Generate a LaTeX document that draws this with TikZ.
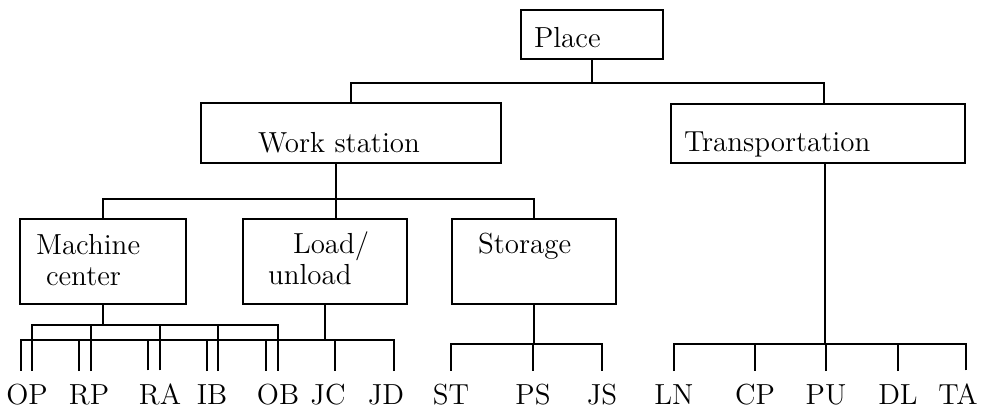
\documentclass[tikz,border=0pt]{standalone}
\usepackage{tikz}
\usetikzlibrary{positioning}
\newcommand{\diagfont}{\fontsize{14.5}{15.5}\selectfont}

\begin{document}
\begin{tikzpicture}[x=0.5pt,y=-0.5pt,line width=1pt,
    box/.style={draw,rectangle,inner sep=0,anchor=north west},
    txt/.style={inner sep=0,font=\diagfont},
    leaf/.style={inner xsep=0,inner ysep=6pt,anchor=base,font=\diagfont}]
        \useasboundingbox (0,0) rectangle (984,412);
        % boxes
        \node[box,minimum width=71pt,minimum height=24.5pt] (place) at (520,9) {};
        \node[box,minimum width=150pt,minimum height=30pt] (ws) at (200,102) {};
        \node[box,minimum width=147pt,minimum height=29.5pt] (tr) at (670,103) {};
        \node[box,minimum width=83pt,minimum height=42.5pt] (mc) at (19,218) {};
        \node[box,minimum width=82pt,minimum height=42.5pt] (lu) at (242,218) {};
        \node[box,minimum width=82pt,minimum height=42.5pt] (stor) at (451,218) {};
        \node[txt,anchor=base west] (place-t) at (533,47) {Place};
        \node[txt,anchor=base west] (ws-t) at (257,152) {Work station};
        \node[txt,anchor=base west] (tr-t) at (683,151) {Transportation};
        \node[txt,anchor=north west,align=left] (mc-t) at (35,233) {Machine\\\hspace*{5pt}center};
        \node[txt,anchor=north west,align=left] (lu-t) at (267,231) {\hspace*{12.5pt}Load/\\unload};
        \node[txt,anchor=base west] (stor-t) at (477,253) {Storage};
        % leaves
        \foreach \t/\x in {OP/27, RP/89, RA/160, IB/212, OB/278, JC/328, JD/386,
                           ST/451, PS/533, JS/602, LN/674, CP/755, PU/826, DL/898, TA/958} {
            \node[leaf] (\t) at (\x,404) {\t};
        }
        % upper levels
        \draw (place.south) -- ++(0,23) coordinate (pbus);
        \draw (ws.north) |- (pbus) -| ([xshift=3pt]tr.north);
        \draw ([xshift=-7.5pt]ws.south) -- ++(0,35) coordinate (wbus) -- ++(0,21);
        \draw (mc.north) |- (wbus) -| (stor.north);
        % buses
        \draw (mc.south) -- ++(0,20) coordinate (mcbus);
        \draw (lu.south) -- ++(0,35) coordinate (lubus);
        \draw (stor.south) -- ++(0,39) coordinate (stbus);
        \draw ([xshift=3.5pt]tr.south) -- ++(0,180) coordinate (trbus);
        \foreach \t/\s in {OP/2.5pt, RP/1pt, RA/0pt, IB/3pt, OB/0pt}
            \draw ([xshift=\s]\t.north) |- (mcbus);
        \foreach \t/\s in {OP/-3pt, RP/-5pt, RA/-6pt, IB/-2.5pt, OB/-6pt, JC/3.5pt, JD/4pt}
            \draw ([xshift=\s]\t.north) |- (lubus);
        \foreach \t in {ST, PS, JS}
            \draw (\t.north) |- (stbus);
        \foreach \t/\s in {LN/0pt, CP/0pt, PU/0pt, DL/0pt, TA/4pt}
            \draw ([xshift=\s]\t.north) |- (trbus);
\end{tikzpicture}
\end{document}
